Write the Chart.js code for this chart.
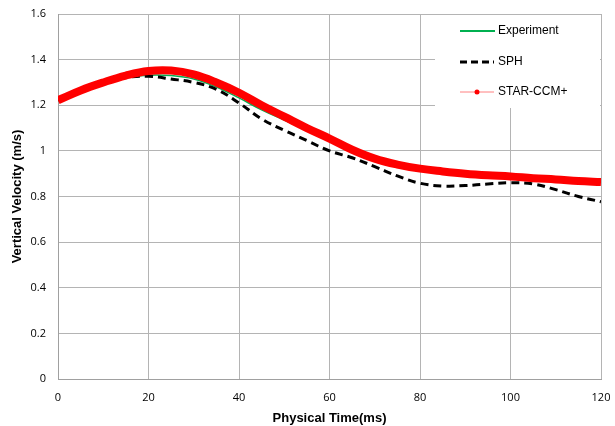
<!DOCTYPE html>
<html>
<head>
<meta charset="utf-8">
<script src="https://cdn.jsdelivr.net/npm/chart.js@4/dist/chart.umd.min.js"></script>
<style>
  html, body { margin: 0; padding: 0; background: #fff; }
  #wrap { width: 615px; height: 426px; position: relative; }
</style>
</head>
<body>
<div id="wrap"><canvas id="chart"></canvas></div>
<script>
'use strict';

// time in ms
const times = [0, 5, 10, 15, 20, 25, 30, 35, 40, 45, 50, 55, 60, 65, 70, 75, 80, 85, 90, 95, 100, 105, 110, 115, 120];

const experiment = [1.222, 1.265, 1.300, 1.322, 1.332, 1.330, 1.315, 1.280, 1.232, 1.180, 1.135, 1.090, 1.048,
  1.003, 0.965, 0.940, 0.922, 0.910, 0.900, 0.893, 0.888, 0.880, 0.875, 0.868, 0.863];

const sph = [1.222, 1.265, 1.300, 1.322, 1.327, 1.315, 1.300, 1.270, 1.210, 1.140, 1.090, 1.045, 1.000,
  0.970, 0.931, 0.890, 0.858, 0.846, 0.848, 0.855, 0.860, 0.855, 0.830, 0.800, 0.777];

const starCcm = [1.222, 1.265, 1.300, 1.330, 1.350, 1.352, 1.335, 1.300, 1.255, 1.200, 1.150, 1.100, 1.054,
  1.005, 0.966, 0.940, 0.922, 0.910, 0.900, 0.893, 0.888, 0.880, 0.875, 0.868, 0.863];

const xTicks = [0, 20, 40, 60, 80, 100, 120];
const yTicks = [0, 0.2, 0.4, 0.6, 0.8, 1, 1.2, 1.4, 1.6];

const legendItems = ['Experiment', 'SPH', 'STAR-CCM+'];

function toPoints(vals) {
  return times.map((t, i) => ({ x: t, y: vals[i] }));
}

// legend drawn inside the plot, white box over the grid
const insideLegend = {
  id: 'insideLegend',
  afterDraw(chart) {
    const ctx = chart.ctx;
    ctx.save();
    ctx.fillStyle = '#fff';
    ctx.fillRect(435, 15, 165, 93);
    ctx.font = '12px "Liberation Sans", Arial, sans-serif';
    ctx.textBaseline = 'middle';
    ctx.fillStyle = '#000';

    // Experiment
    ctx.strokeStyle = '#00b050';
    ctx.lineWidth = 2;
    ctx.beginPath(); ctx.moveTo(460, 31); ctx.lineTo(495, 31); ctx.stroke();
    ctx.fillText(legendItems[0], 498, 31);

    // SPH
    ctx.strokeStyle = '#000';
    ctx.lineWidth = 3;
    ctx.setLineDash([7, 4]);
    ctx.beginPath(); ctx.moveTo(460, 62); ctx.lineTo(494, 62); ctx.stroke();
    ctx.setLineDash([]);
    ctx.fillText(legendItems[1], 498, 62);

    // STAR-CCM+
    ctx.strokeStyle = '#ff8080';
    ctx.lineWidth = 1;
    ctx.beginPath(); ctx.moveTo(460, 92); ctx.lineTo(494, 92); ctx.stroke();
    ctx.fillStyle = '#ff0000';
    ctx.beginPath(); ctx.arc(477, 92, 2.5, 0, Math.PI * 2); ctx.fill();
    ctx.fillStyle = '#000';
    ctx.fillText(legendItems[2], 498, 92);
    ctx.restore();
  }
};

const canvasElem = document.getElementById('chart');

new Chart(canvasElem.getContext('2d'), {
  type: 'line',
  data: {
    datasets: [
      {
        label: legendItems[2],
        data: toPoints(starCcm),
        borderColor: '#ff0000',
        borderWidth: 8,
        pointRadius: 0,
        tension: 0.4,
        order: 0
      },
      {
        label: legendItems[1],
        data: toPoints(sph),
        borderColor: '#000000',
        borderWidth: 3,
        borderDash: [8, 5],
        pointRadius: 0,
        tension: 0.4,
        order: 1
      },
      {
        label: legendItems[0],
        data: toPoints(experiment),
        borderColor: '#00b050',
        borderWidth: 1.5,
        pointRadius: 0,
        tension: 0.4,
        order: 2
      }
    ]
  },
  options: {
    responsive: true,
    maintainAspectRatio: false,
    animation: false,
    layout: { padding: { top: 14, right: 14, left: 0, bottom: 0 } },
    scales: {
      x: {
        type: 'linear',
        min: 0,
        max: 120,
        afterBuildTicks: (scale) => { scale.ticks = xTicks.map(v => ({ value: v })); },
        afterFit: (scale) => {
          scale.height = 47;
          scale.paddingLeft = 0;
          scale.paddingRight = 0;
        },
        grid: { color: '#b4b4b4', drawTicks: false },
        border: { color: '#a0a0a0' },
        ticks: {
          color: '#000',
          padding: 12,
          font: { family: '"Open Sans", sans-serif', size: 11 }
        },
        title: {
          display: true,
          text: 'Physical Time(ms)',
          color: '#000',
          padding: { top: 5, bottom: 0 },
          font: { family: '"Liberation Sans", Arial, sans-serif', size: 13, weight: 'bold' }
        }
      },
      y: {
        min: 0,
        max: 1.6,
        afterBuildTicks: (scale) => { scale.ticks = yTicks.map(v => ({ value: v })); },
        afterFit: (scale) => {
          scale.width = 58;
          scale.paddingTop = 0;
          scale.paddingBottom = 0;
        },
        grid: { color: '#b4b4b4', drawTicks: false },
        border: { color: '#a0a0a0' },
        ticks: {
          color: '#000',
          padding: 12,
          font: { family: '"Open Sans", sans-serif', size: 11 },
          callback: (v) => String(+Number(v).toFixed(1))
        },
        title: {
          display: true,
          text: 'Vertical Velocity (m/s)',
          color: '#000',
          padding: { top: 10, bottom: 4 },
          font: { family: '"Liberation Sans", Arial, sans-serif', size: 13, weight: 'bold' }
        }
      }
    },
    plugins: {
      legend: { display: false },
      tooltip: { enabled: false }
    }
  },
  plugins: [insideLegend]
});
</script>
</body>
</html>
